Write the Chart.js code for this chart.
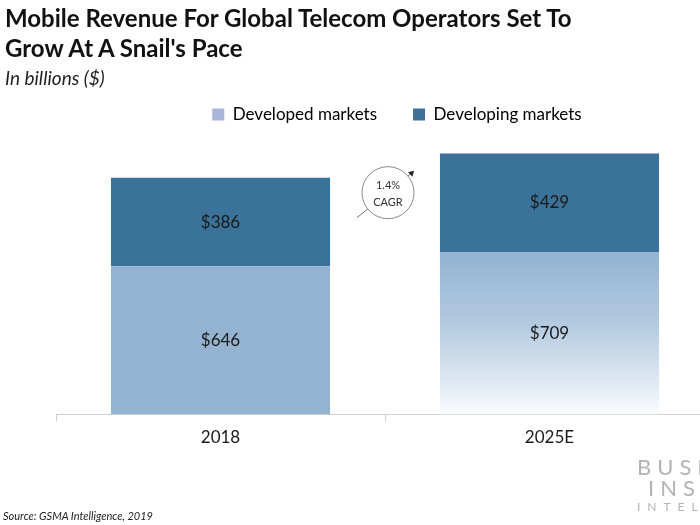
<!DOCTYPE html>
<html>
<head>
<meta charset="utf-8">
<script src="https://cdn.jsdelivr.net/npm/chart.js@4.4.1/dist/chart.umd.min.js"></script>
<style>
  html, body { margin: 0; padding: 0; background: #fff; }
  #wrap { position: relative; width: 700px; height: 525px; overflow: hidden; font-family: Lato, "Open Sans", sans-serif; }
  #chartBox { position: absolute; left: 0; top: 0; width: 788px; height: 525px; }
  #title { position: absolute; left: 5px; top: 3px; font-weight: 700; font-size: 24px; line-height: 30px; color: #111; white-space: nowrap; }
  #subtitle { position: absolute; left: 5px; top: 66px; font-style: italic; font-size: 19px; color: #222; }
  #source { position: absolute; left: 3px; top: 509px; font-style: italic; font-size: 11px; color: #222; }
  .wm { position: absolute; color: #b3b3b3; white-space: nowrap; font-family: Lato, sans-serif; }
</style>
</head>
<body>
<div id="wrap">
  <div id="chartBox"><canvas id="c" width="788" height="525"></canvas></div>
  <div id="title">Mobile Revenue For Global Telecom Operators Set To<br>Grow At A Snail's Pace</div>
  <div id="subtitle">In billions ($)</div>
  <div id="source">Source: GSMA Intelligence, 2019</div>
  <div class="wm" style="left:637px; top:453px; font-size:22px; letter-spacing:6px;">BUSINESS</div>
  <div class="wm" style="left:648px; top:474px; font-size:22px; letter-spacing:6px;">INSIDER</div>
  <div class="wm" style="left:637px; top:499px; font-size:12px; letter-spacing:7px;">INTELLIGENCE</div>
</div>
<script>
const categories = ["2018", "2025E"];
const developedMarkets = [646, 709];
const developingMarkets = [386, 429];
const seriesNames = ["Developed markets", "Developing markets"];
const cagrText = ["1.4%", "CAGR"];

const COL_DEV = "#94b3d1";
const COL_DEVING = "#3a7299";
const LEG_DEV = "#a9b5db";
const LEG_DEVING = "#3d7199";

function developedColor(ctx) {
  if (ctx.type !== "data") return COL_DEV;
  if (ctx.dataIndex !== 1) return COL_DEV;
  const chart = ctx.chart;
  const y = chart.scales.y;
  if (!y || !chart.chartArea) return COL_DEV;
  const top = y.getPixelForValue(developedMarkets[1]);
  const bot = y.getPixelForValue(0);
  const g = chart.ctx.createLinearGradient(0, top, 0, bot);
  g.addColorStop(0, "#93b3d1");
  g.addColorStop(0.45, "#b4cbe0");
  g.addColorStop(0.8, "#dfe9f3");
  g.addColorStop(1, "#fbfdff");
  return g;
}

const legendShift = {
  id: "legendShift",
  afterLayout(chart) {
    if (chart.legend) {
      chart.legend.left += 12;
      chart.legend.right += 12;
    }
  }
};

const labelPlugin = {
  id: "valueLabels",
  afterDatasetsDraw(chart) {
    const c = chart.ctx;
    c.save();
    c.font = "17px Lato, sans-serif";
    c.fillStyle = "#1a1a1a";
    c.textAlign = "center";
    c.textBaseline = "middle";
    chart.data.datasets.forEach((ds, di) => {
      const meta = chart.getDatasetMeta(di);
      meta.data.forEach((bar, i) => {
        const cy = (bar.y + bar.base) / 2;
        c.fillText("$" + ds.data[i], bar.x, cy);
      });
    });
    c.restore();
  }
};

const cagrPlugin = {
  id: "cagr",
  afterDraw(chart) {
    const x = chart.scales.x, y = chart.scales.y;
    const c = chart.ctx;
    const cx = x.getPixelForValue(0.5) + 3;
    const cy = y.getPixelForValue(967);
    const r = 26;
    c.save();
    c.strokeStyle = "#777";
    c.lineWidth = 1;
    c.beginPath();
    c.moveTo(cx - 31, cy + 25);
    c.lineTo(cx + 24, cy - 20);
    c.stroke();
    c.fillStyle = "#222";
    c.beginPath();
    const ax = cx + 26, ay = cy - 22;
    c.moveTo(ax, ay);
    c.lineTo(ax - 6, ay + 1.5);
    c.lineTo(ax - 1.5, ay + 6);
    c.closePath();
    c.fill();
    c.fillStyle = "#fff";
    c.strokeStyle = "#8a8a8a";
    c.beginPath();
    c.arc(cx, cy, r, 0, Math.PI * 2);
    c.fill();
    c.stroke();
    c.fillStyle = "#333";
    c.font = "11px Lato, sans-serif";
    c.textAlign = "center";
    c.textBaseline = "middle";
    c.fillText(cagrText[0], cx, cy - 7);
    c.fillText(cagrText[1], cx, cy + 10);
    c.restore();
  }
};

new Chart(document.getElementById("c"), {
  type: "bar",
  data: {
    labels: categories,
    datasets: [
      { label: seriesNames[0], data: developedMarkets, backgroundColor: developedColor, borderWidth: 0 },
      { label: seriesNames[1], data: developingMarkets, backgroundColor: COL_DEVING, borderWidth: 0 }
    ]
  },
  options: {
    responsive: false,
    animation: false,
    layout: { padding: { top: 70, bottom: 71, left: 56, right: 74 } },
    datasets: { bar: { categoryPercentage: 1.0, barPercentage: 0.666 } },
    plugins: {
      title: { display: false },
      tooltip: { enabled: false },
      legend: {
        position: "top",
        labels: {
          font: { family: "Lato, sans-serif", size: 17 },
          color: "#222",
          boxWidth: 12,
          boxHeight: 12,
          padding: 36,
          generateLabels(chart) {
            return seriesNames.map((n, i) => ({
              text: n,
              fillStyle: i === 0 ? LEG_DEV : LEG_DEVING,
              strokeStyle: i === 0 ? LEG_DEV : LEG_DEVING,
              lineWidth: 0,
              datasetIndex: i,
              hidden: false
            }));
          }
        }
      }
    },
    scales: {
      x: {
        stacked: true,
        grid: { drawOnChartArea: false, drawTicks: true, tickLength: 7, color: "#d0d0d0" },
        border: { color: "#d0d0d0" },
        ticks: { color: "#1a1a1a", font: { family: "Lato, sans-serif", size: 17 }, padding: 6 }
      },
      y: {
        stacked: true,
        display: false,
        min: 0,
        max: 1227
      }
    }
  },
  plugins: [legendShift, labelPlugin, cagrPlugin]
});
</script>
</body>
</html>
